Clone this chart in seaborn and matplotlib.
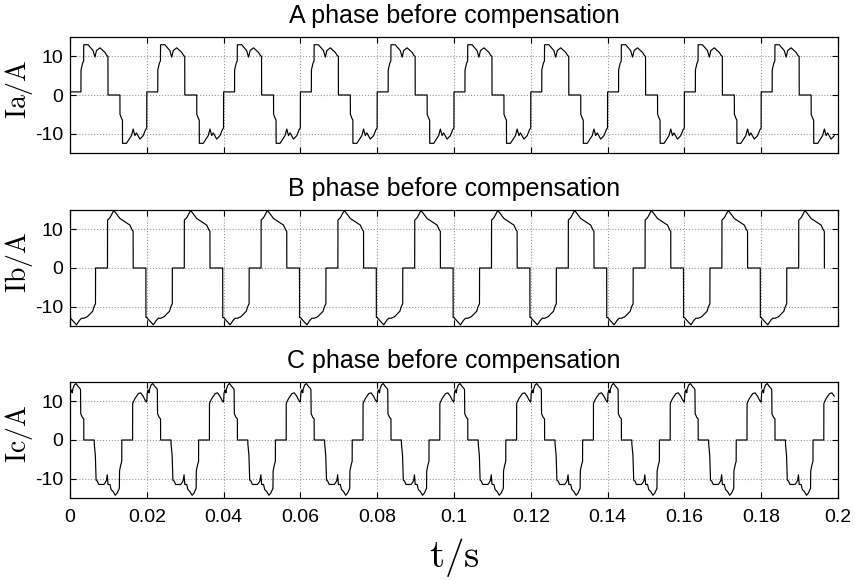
import numpy as np
import pandas as pd
import matplotlib
matplotlib.use("Agg")
import matplotlib.pyplot as plt
import seaborn as sns

# One 50 Hz cycle of each phase current: breakpoints (ms) and values (A)
period_ms = 20.0
n_cycles = 10

ia_t = [0.0, 2.85, 2.87, 3.30, 3.55, 3.58, 4.70, 6.00, 6.50, 6.90, 7.80, 9.10, 9.60,
        9.88, 9.90, 13.00, 13.02, 13.40, 13.66, 13.68, 14.70, 16.00, 16.45, 16.90,
        17.30, 18.20, 19.06, 19.66, 19.98]
ia_v = [0.8, 0.8, 6.5, 8.3, 8.8, 13.0, 13.0, 11.5, 9.8, 11.5, 12.2, 11.0, 10.2,
        10.0, 0.0, 0.0, -5.0, -6.0, -6.5, -12.5, -12.5, -10.5, -8.8, -10.5,
        -9.8, -11.4, -10.5, -9.0, -8.5]

ib_t = [0.0, 0.15, 1.70, 2.50, 3.00, 3.60, 4.50, 5.20, 5.90, 6.20, 6.50, 6.64, 6.66,
        9.76, 9.78, 10.40, 11.25, 11.45, 12.10, 13.00, 13.45, 14.30, 15.60, 16.20,
        16.44, 16.46, 19.76, 19.78]
ib_v = [-12.8, -13.0, -14.7, -13.5, -13.0, -13.0, -12.6, -11.9, -11.2, -10.2, -9.5,
        -9.3, 0.0, 0.0, 12.4, 13.0, 14.6, 14.8, 14.0, 12.8, 12.5, 11.9, 11.1, 9.8,
        9.5, 0.0, 0.0, -12.8]
ib_start = -6.7  # value at t = 0 (start-up)

ic_t = [0.0, 0.10, 0.30, 0.45, 0.60, 0.75, 1.10, 1.55, 2.15, 2.60, 2.74, 2.80, 3.25,
        3.58, 3.60, 6.30, 6.32, 6.60, 6.80, 7.10, 7.50, 8.80, 9.20, 9.50, 9.70, 9.90,
        10.40, 10.70, 11.20, 11.80, 12.30, 12.70, 12.85, 12.90, 13.20, 13.48, 13.50,
        16.30, 16.32, 16.46, 16.90, 17.80, 18.40, 19.06, 19.50, 19.90]
ic_v = [10.0, 12.0, 12.9, 12.9, 12.2, 13.2, 14.2, 14.6, 13.8, 13.3, 13.0, 6.8, 5.8,
        5.5, 0.0, 0.0, -1.0, -4.0, -10.4, -10.6, -11.5, -11.5, -11.0, -10.4, -9.0,
        -11.5, -11.5, -12.8, -13.3, -14.3, -13.7, -12.8, -12.5, -8.0, -6.5, -5.5,
        0.0, 0.0, 9.4, 9.8, 10.7, 12.0, 12.2, 11.3, 10.4, 9.8]

titles = ["A phase before compensation",
          "B phase before compensation",
          "C phase before compensation"]
ylabels = [r"$\mathrm{Ia/A}$", r"$\mathrm{Ib/A}$", r"$\mathrm{Ic/A}$"]
xlabel = r"$\mathrm{t/s}$"
xticks = [0, 0.02, 0.04, 0.06, 0.08, 0.1, 0.12, 0.14, 0.16, 0.18, 0.2]
xtick_labels = ["0", "0.02", "0.04", "0.06", "0.08", "0.1", "0.12", "0.14",
                "0.16", "0.18", "0.2"]
yticks = [-10, 0, 10]
ytick_labels = ["-10", "0", "10"]
t_end = 0.2


def repeat_cycles(t_ms, v, start=None):
    t_all, v_all = [], []
    for k in range(n_cycles):
        t_all.extend((np.asarray(t_ms) + k * period_ms) / 1000.0)
        v_all.extend(v)
    if start is not None:
        v_all[0] = start
    df = pd.DataFrame({"t": t_all, "i": v_all})
    return df[df["t"] < t_end - 0.0005]


frames = [repeat_cycles(ia_t, ia_v),
          repeat_cycles(ib_t, ib_v, ib_start),
          repeat_cycles(ic_t, ic_v)]

sns.set_style("white")
plt.rcParams["font.family"] = ["Liberation Sans", "DejaVu Sans"]
plt.rcParams["mathtext.fontset"] = "cm"
plt.rcParams["axes.unicode_minus"] = False
plt.rcParams["text.color"] = "black"
plt.rcParams["axes.labelcolor"] = "black"

fig = plt.figure(figsize=(8.55, 5.8), dpi=100)
left, width = 70 / 855, 768 / 855
bottoms = [1 - 153 / 580, 1 - 326 / 580, 1 - 498 / 580]
height = 116 / 580

for idx, (df, title, ylab, bottom) in enumerate(zip(frames, titles, ylabels, bottoms)):
    ax = fig.add_axes([left, bottom, width, height])
    sns.lineplot(data=df, x="t", y="i", ax=ax, color="black", linewidth=0.85,
                 estimator=None, sort=False)
    ax.set_xlim(0, 0.2)
    ax.set_ylim(-15, 15)
    ax.set_xticks(xticks)
    ax.set_yticks(yticks)
    ax.set_yticklabels(ytick_labels)
    ax.grid(True, linestyle=":", color="#999999", linewidth=0.8)
    ax.set_axisbelow(True)
    for s in ax.spines.values():
        s.set_visible(True)
        s.set_color("black")
        s.set_linewidth(0.9)
    ax.tick_params(direction="in", bottom=True, left=True, top=True, right=True,
                   length=4, width=0.8, labelsize=14, colors="black")
    ax.tick_params(axis="x", pad=8)
    ax.tick_params(axis="y", pad=5)
    ax.set_title(title, fontsize=18, pad=10, color="black")
    ax.set_ylabel(ylab, fontsize=20)
    ax.yaxis.set_label_coords(-0.045, 0.55)
    if idx < 2:
        ax.set_xticklabels([])
        ax.set_xlabel("")
    else:
        ax.set_xticklabels(xtick_labels)
        ax.set_xlabel(xlabel, fontsize=28)
        ax.xaxis.set_label_coords(0.5, -0.33)

fig.savefig("out.png", dpi=100)
